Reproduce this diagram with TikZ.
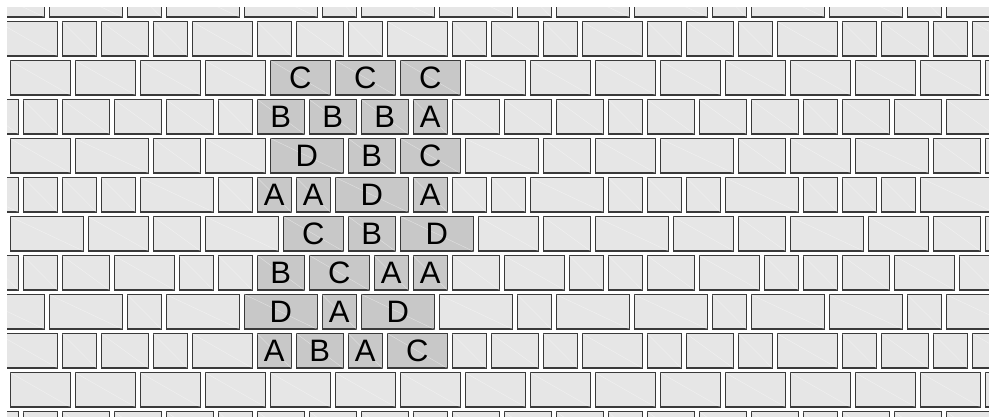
\documentclass[tikz,border=0pt]{standalone}
\usepackage{fontspec}
\setmainfont{Liberation Sans}
\definecolor{brickgray}{HTML}{E6E6E6}
\definecolor{markgray}{HTML}{C8C8C8}
\definecolor{mortarline}{HTML}{3A3A3A}
\tikzset{
  brickbox/.style={fill=brickgray, draw=mortarline, line width=1.3pt},
  markbox/.style={rectangle, fill=markgray, draw=mortarline, line width=1.3pt, inner sep=0pt, minimum height=34.3pt},
  grain/.style={draw=white, opacity=0.4, line width=0.5pt},
  lettr/.style={inner sep=0pt, font=\fontsize{31}{31}\selectfont, text height=22pt, text depth=0pt, text=black}
}
\newcommand\brickrow[3]{%
  \xdef\curx{#2}%
  \foreach \rep in {1,...,7}{%
    \foreach \w in {#3}{%
      \pgfmathsetmacro\xa{10.3+13*\curx}%
      \pgfmathsetmacro\xb{10.3+13*(\curx+\w)-5}%
      \pgfmathsetmacro\ya{-(-17.3+39*#1)}%
      \pgfmathsetmacro\yb{\ya-34.3}%
      \path[brickbox] (\xa pt,\ya pt) rectangle (\xb pt,\yb pt);
      \path[grain] (\xa pt,\ya pt) -- (\xb pt,\yb pt);
      \pgfmathtruncatemacro\nx{\curx+\w}%
      \xdef\curx{\nx}%
    }%
  }%
}
\newcommand\hb[5]{%
  \pgfmathsetmacro\hxa{10.3+13*#3}%
  \pgfmathsetmacro\hxb{10.3+13*(#3+#4)-5}%
  \pgfmathsetmacro\hcx{(\hxa+\hxb)/2}%
  \pgfmathsetmacro\hw{\hxb-\hxa}%
  \pgfmathsetmacro\hcy{-(-17.3+39*#2+17.15)}%
  \node[markbox, minimum width=\hw pt] (#1) at (\hcx pt,\hcy pt) {};
  \path[grain] (#1.north west) -- (#1.south east);
  \node[lettr] (#1t) at (#1.center) {#5};
}
\begin{document}
\begin{tikzpicture}
\useasboundingbox (0,0) rectangle (989pt,-416pt);
\fill[white] (0,0) rectangle (989pt,-416pt);
\begin{scope}
\clip (7pt,-7pt) rectangle (989pt,-416pt);
\brickrow{0}{-3}{6,6,3}
\brickrow{1}{-1}{5,3,4,3}
\brickrow{2}{0}{5,5,5}
\brickrow{3}{-14}{3,4,4,4}
\brickrow{4}{0}{5,6,4}
\brickrow{5}{-5}{6,3,3,3}
\brickrow{6}{0}{6,5,4}
\brickrow{7}{-2}{3,3,4,5}
\brickrow{8}{-3}{6,6,3}
\brickrow{9}{-1}{5,3,4,3}
\brickrow{10}{0}{5,5,5}
\brickrow{11}{-14}{3,4,4,4}
% highlighted bricks
\hb{ra}{2}{20}{5}{C}
\hb{rb}{2}{25}{5}{C}
\hb{rc}{2}{30}{5}{C}
\hb{sa}{3}{19}{4}{B}
\hb{sb}{3}{23}{4}{B}
\hb{sc}{3}{27}{4}{B}
\hb{sd}{3}{31}{3}{A}
\hb{ta}{4}{20}{6}{D}
\hb{tb}{4}{26}{4}{B}
\hb{tc}{4}{30}{5}{C}
\hb{ua}{5}{19}{3}{A}
\hb{ub}{5}{22}{3}{A}
\hb{uc}{5}{25}{6}{D}
\hb{ud}{5}{31}{3}{A}
\hb{va}{6}{21}{5}{C}
\hb{vb}{6}{26}{4}{B}
\hb{vc}{6}{30}{6}{D}
\hb{wa}{7}{19}{4}{B}
\hb{wb}{7}{23}{5}{C}
\hb{wc}{7}{28}{3}{A}
\hb{wd}{7}{31}{3}{A}
\hb{xa}{8}{18}{6}{D}
\hb{xb}{8}{24}{3}{A}
\hb{xc}{8}{27}{6}{D}
\hb{ya}{9}{19}{3}{A}
\hb{yb}{9}{22}{4}{B}
\hb{yc}{9}{26}{3}{A}
\hb{yd}{9}{29}{5}{C}
\end{scope}
\end{tikzpicture}
\end{document}
